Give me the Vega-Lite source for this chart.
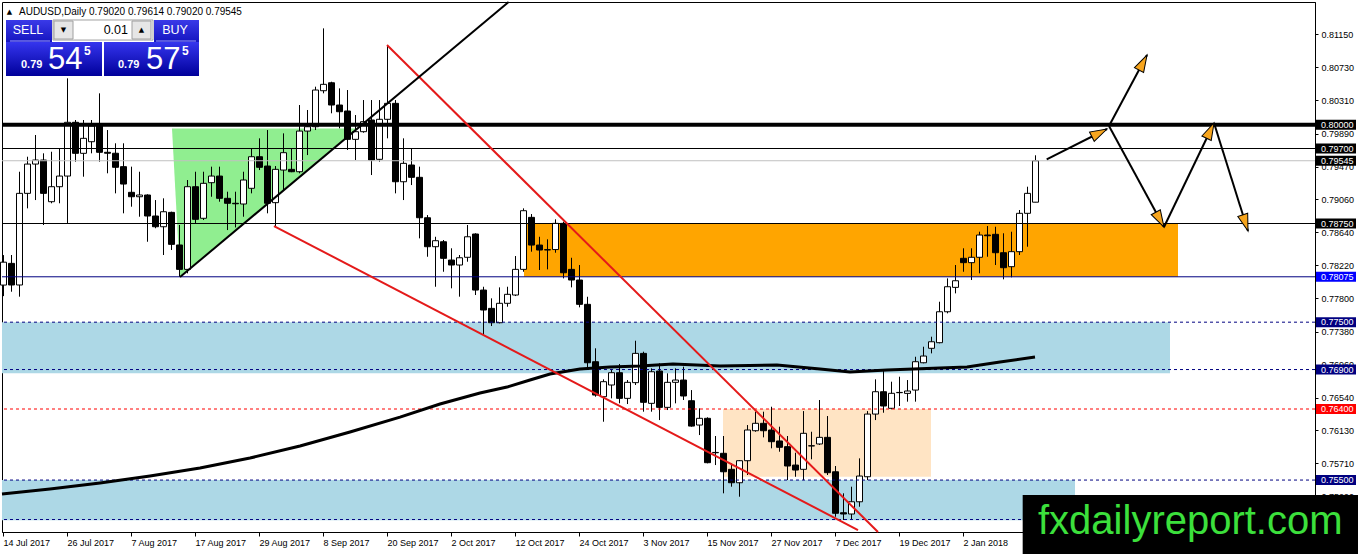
{
  "$schema": "https://vega.github.io/schema/vega-lite/v6.json",
  "width": 1313,
  "height": 530,
  "autosize": {"type": "none"},
  "padding": {"left": 2, "top": 2, "right": 43, "bottom": 22},
  "background": "white",
  "config": {
    "view": {"stroke": "black", "strokeWidth": 1},
    "font": "Liberation Sans",
    "axis": {"labelOverlap": false}
  },
  "resolve": {"scale": {"color": "independent", "fill": "independent", "angle": "independent"}},
  "datasets": {
    "zones": [
      {"a": -0.125, "b": 145.875, "lo": 0.76852, "hi": 0.775, "k": "blue"},
      {"a": -0.125, "b": 134, "lo": 0.7499, "hi": 0.755, "k": "blue"},
      {"a": 65.125, "b": 146.875, "lo": 0.78075, "hi": 0.7875, "k": "orange"},
      {"a": 90, "b": 116, "lo": 0.75542, "hi": 0.764, "k": "peach"}
    ],
    "tri": [
      {"t": 21.125, "top": 0.79955, "bot": 0.79955},
      {"t": 22.125, "top": 0.79955, "bot": 0.78072},
      {"t": 44.2, "top": 0.79955, "bot": 0.79955}
    ],
    "levels": [
      {"p": 0.8, "k": "thick"},
      {"p": 0.797, "k": "black"},
      {"p": 0.79545, "k": "gray"},
      {"p": 0.7875, "k": "black"},
      {"p": 0.78075, "k": "navy"},
      {"p": 0.775, "k": "dash"},
      {"p": 0.769, "k": "dash"},
      {"p": 0.764, "k": "red"},
      {"p": 0.755, "k": "dash"},
      {"p": 0.75, "k": "dash"}
    ],
    "tags": [
      {"p": 0.8, "k": "black"},
      {"p": 0.797, "k": "black"},
      {"p": 0.79545, "k": "black"},
      {"p": 0.7875, "k": "black"},
      {"p": 0.78075, "k": "blue"},
      {"p": 0.775, "k": "navy"},
      {"p": 0.769, "k": "navy"},
      {"p": 0.764, "k": "red"},
      {"p": 0.755, "k": "navy"}
    ],
    "ma": [
      {"t": -0.125, "p": 0.75323}, {"t": 5.875, "p": 0.75386}, {"t": 12.125, "p": 0.75462},
      {"t": 18.375, "p": 0.75551}, {"t": 24.625, "p": 0.75652}, {"t": 30.875, "p": 0.75779},
      {"t": 37.125, "p": 0.75931}, {"t": 43.375, "p": 0.76108}, {"t": 49.625, "p": 0.76298},
      {"t": 54.625, "p": 0.76463}, {"t": 59.625, "p": 0.76602}, {"t": 63, "p": 0.76678},
      {"t": 65.875, "p": 0.76767}, {"t": 68.375, "p": 0.76843}, {"t": 72.125, "p": 0.76907},
      {"t": 75.875, "p": 0.76932}, {"t": 79.625, "p": 0.76945}, {"t": 83.75, "p": 0.7697},
      {"t": 89.625, "p": 0.76945}, {"t": 96.75, "p": 0.76957}, {"t": 102.125, "p": 0.76907},
      {"t": 105.875, "p": 0.76869}, {"t": 110.5, "p": 0.76894}, {"t": 117.125, "p": 0.7692},
      {"t": 120.5, "p": 0.76932}, {"t": 124.625, "p": 0.76995}, {"t": 129, "p": 0.77058}
    ],
    "bars": [
      {"t": 0, "o": 0.7797, "h": 0.7835, "l": 0.7783, "c": 0.7826},
      {"t": 1, "o": 0.78245, "h": 0.78351, "l": 0.77886, "c": 0.77971},
      {"t": 2, "o": 0.77971, "h": 0.79406, "l": 0.77823, "c": 0.79132},
      {"t": 3, "o": 0.79132, "h": 0.79596, "l": 0.78942, "c": 0.79503},
      {"t": 4, "o": 0.79503, "h": 0.79871, "l": 0.79047, "c": 0.79554},
      {"t": 5, "o": 0.79554, "h": 0.79639, "l": 0.78731, "c": 0.79132},
      {"t": 6, "o": 0.79026, "h": 0.79659, "l": 0.79006, "c": 0.79216},
      {"t": 7, "o": 0.79216, "h": 0.79702, "l": 0.79006, "c": 0.79351},
      {"t": 8, "o": 0.79351, "h": 0.80589, "l": 0.78752, "c": 0.80032},
      {"t": 9, "o": 0.80032, "h": 0.80061, "l": 0.79533, "c": 0.79639},
      {"t": 10, "o": 0.79639, "h": 0.80061, "l": 0.79343, "c": 0.79829},
      {"t": 11, "o": 0.79786, "h": 0.80061, "l": 0.79639, "c": 0.79985},
      {"t": 12, "o": 0.79985, "h": 0.80399, "l": 0.79533, "c": 0.79652},
      {"t": 13, "o": 0.79652, "h": 0.79934, "l": 0.79386, "c": 0.7964},
      {"t": 14, "o": 0.7964, "h": 0.79766, "l": 0.79132, "c": 0.79462},
      {"t": 15, "o": 0.7947, "h": 0.79766, "l": 0.78879, "c": 0.7925},
      {"t": 16, "o": 0.79145, "h": 0.7947, "l": 0.78963, "c": 0.79089},
      {"t": 17, "o": 0.79089, "h": 0.79406, "l": 0.78836, "c": 0.79111},
      {"t": 18, "o": 0.79111, "h": 0.7912, "l": 0.78519, "c": 0.78845},
      {"t": 19, "o": 0.78845, "h": 0.79047, "l": 0.7869, "c": 0.78709},
      {"t": 20, "o": 0.78709, "h": 0.79069, "l": 0.78351, "c": 0.78899},
      {"t": 21, "o": 0.78891, "h": 0.789, "l": 0.78414, "c": 0.78486},
      {"t": 22, "o": 0.78478, "h": 0.78731, "l": 0.78076, "c": 0.78169},
      {"t": 23, "o": 0.78169, "h": 0.79301, "l": 0.78119, "c": 0.79216},
      {"t": 24, "o": 0.79216, "h": 0.79406, "l": 0.78752, "c": 0.78803},
      {"t": 25, "o": 0.78816, "h": 0.79406, "l": 0.78794, "c": 0.79259},
      {"t": 26, "o": 0.79267, "h": 0.7947, "l": 0.79089, "c": 0.79351},
      {"t": 27, "o": 0.79351, "h": 0.7947, "l": 0.79026, "c": 0.79069},
      {"t": 28, "o": 0.79069, "h": 0.79153, "l": 0.78667, "c": 0.79006},
      {"t": 29, "o": 0.79006, "h": 0.79153, "l": 0.787, "c": 0.79},
      {"t": 30, "o": 0.78997, "h": 0.79406, "l": 0.78836, "c": 0.79301},
      {"t": 31, "o": 0.79196, "h": 0.79702, "l": 0.79132, "c": 0.79596},
      {"t": 32, "o": 0.79596, "h": 0.79829, "l": 0.79427, "c": 0.79462},
      {"t": 33, "o": 0.79478, "h": 0.79934, "l": 0.78879, "c": 0.79006},
      {"t": 34, "o": 0.79014, "h": 0.79478, "l": 0.78709, "c": 0.79436},
      {"t": 35, "o": 0.79427, "h": 0.79892, "l": 0.79174, "c": 0.79647},
      {"t": 36, "o": 0.79436, "h": 0.79702, "l": 0.794, "c": 0.79406},
      {"t": 37, "o": 0.79406, "h": 0.80251, "l": 0.79386, "c": 0.79921},
      {"t": 38, "o": 0.79921, "h": 0.80188, "l": 0.79617, "c": 0.79976},
      {"t": 39, "o": 0.79976, "h": 0.80483, "l": 0.79934, "c": 0.80441},
      {"t": 40, "o": 0.80432, "h": 0.81222, "l": 0.80399, "c": 0.80513},
      {"t": 41, "o": 0.80533, "h": 0.80546, "l": 0.80146, "c": 0.80251},
      {"t": 42, "o": 0.80251, "h": 0.80462, "l": 0.79956, "c": 0.80166},
      {"t": 43, "o": 0.80175, "h": 0.80441, "l": 0.79681, "c": 0.79816},
      {"t": 44, "o": 0.79816, "h": 0.80124, "l": 0.79554, "c": 0.79913},
      {"t": 45, "o": 0.79913, "h": 0.80314, "l": 0.799, "c": 0.8004},
      {"t": 46, "o": 0.80061, "h": 0.80314, "l": 0.79364, "c": 0.79554},
      {"t": 47, "o": 0.79563, "h": 0.80314, "l": 0.79533, "c": 0.8007},
      {"t": 48, "o": 0.8007, "h": 0.81011, "l": 0.79829, "c": 0.80272},
      {"t": 49, "o": 0.80272, "h": 0.80314, "l": 0.79132, "c": 0.79279},
      {"t": 50, "o": 0.79279, "h": 0.79829, "l": 0.79047, "c": 0.79512},
      {"t": 51, "o": 0.79491, "h": 0.79702, "l": 0.79237, "c": 0.79335},
      {"t": 52, "o": 0.79335, "h": 0.7947, "l": 0.78562, "c": 0.78823},
      {"t": 53, "o": 0.78823, "h": 0.78857, "l": 0.78329, "c": 0.78456},
      {"t": 54, "o": 0.78456, "h": 0.78582, "l": 0.77949, "c": 0.78532},
      {"t": 55, "o": 0.78519, "h": 0.78541, "l": 0.78139, "c": 0.78309},
      {"t": 56, "o": 0.78287, "h": 0.78436, "l": 0.77929, "c": 0.78224},
      {"t": 57, "o": 0.78224, "h": 0.78351, "l": 0.77823, "c": 0.78316},
      {"t": 58, "o": 0.78322, "h": 0.78731, "l": 0.78266, "c": 0.78582},
      {"t": 59, "o": 0.78617, "h": 0.78626, "l": 0.77844, "c": 0.77907},
      {"t": 60, "o": 0.77907, "h": 0.77949, "l": 0.77337, "c": 0.77654},
      {"t": 61, "o": 0.77675, "h": 0.77802, "l": 0.77451, "c": 0.77493},
      {"t": 62, "o": 0.77493, "h": 0.77941, "l": 0.77485, "c": 0.77739},
      {"t": 63, "o": 0.77739, "h": 0.77949, "l": 0.77696, "c": 0.77853},
      {"t": 64, "o": 0.77844, "h": 0.78338, "l": 0.77831, "c": 0.78169},
      {"t": 65, "o": 0.78169, "h": 0.78942, "l": 0.78139, "c": 0.78912},
      {"t": 66, "o": 0.78828, "h": 0.7887, "l": 0.78393, "c": 0.78477},
      {"t": 67, "o": 0.78477, "h": 0.78582, "l": 0.78161, "c": 0.78414},
      {"t": 68, "o": 0.78414, "h": 0.7855, "l": 0.78169, "c": 0.7842},
      {"t": 69, "o": 0.7842, "h": 0.78803, "l": 0.7838, "c": 0.78752},
      {"t": 70, "o": 0.78752, "h": 0.78773, "l": 0.78055, "c": 0.78126},
      {"t": 71, "o": 0.78169, "h": 0.78316, "l": 0.77941, "c": 0.78034},
      {"t": 72, "o": 0.78034, "h": 0.78224, "l": 0.77688, "c": 0.77726},
      {"t": 73, "o": 0.77726, "h": 0.77822, "l": 0.76894, "c": 0.76986},
      {"t": 74, "o": 0.76999, "h": 0.77169, "l": 0.76556, "c": 0.76577},
      {"t": 75, "o": 0.76556, "h": 0.76776, "l": 0.76239, "c": 0.76746},
      {"t": 76, "o": 0.76704, "h": 0.76894, "l": 0.76535, "c": 0.7686},
      {"t": 77, "o": 0.7686, "h": 0.7697, "l": 0.76472, "c": 0.76535},
      {"t": 78, "o": 0.76535, "h": 0.76767, "l": 0.76463, "c": 0.76738},
      {"t": 79, "o": 0.76734, "h": 0.77265, "l": 0.76704, "c": 0.77105},
      {"t": 80, "o": 0.77105, "h": 0.77126, "l": 0.76366, "c": 0.76485},
      {"t": 81, "o": 0.76472, "h": 0.76915, "l": 0.76366, "c": 0.76872},
      {"t": 82, "o": 0.76881, "h": 0.76979, "l": 0.7626, "c": 0.76421},
      {"t": 83, "o": 0.76421, "h": 0.76852, "l": 0.76387, "c": 0.76738},
      {"t": 84, "o": 0.76738, "h": 0.76915, "l": 0.76472, "c": 0.76767},
      {"t": 85, "o": 0.76767, "h": 0.76936, "l": 0.76514, "c": 0.76565},
      {"t": 86, "o": 0.76505, "h": 0.7664, "l": 0.76176, "c": 0.76184},
      {"t": 87, "o": 0.76197, "h": 0.76409, "l": 0.7607, "c": 0.76282},
      {"t": 88, "o": 0.76282, "h": 0.76295, "l": 0.75712, "c": 0.7572},
      {"t": 89, "o": 0.75846, "h": 0.76058, "l": 0.7569, "c": 0.7585},
      {"t": 90, "o": 0.75839, "h": 0.76058, "l": 0.75332, "c": 0.75605},
      {"t": 91, "o": 0.75636, "h": 0.75712, "l": 0.75416, "c": 0.75466},
      {"t": 92, "o": 0.75466, "h": 0.75754, "l": 0.75289, "c": 0.75745},
      {"t": 93, "o": 0.75745, "h": 0.76197, "l": 0.75564, "c": 0.76134},
      {"t": 94, "o": 0.76125, "h": 0.76366, "l": 0.76112, "c": 0.76219},
      {"t": 95, "o": 0.76219, "h": 0.76366, "l": 0.76041, "c": 0.76125},
      {"t": 96, "o": 0.76134, "h": 0.76429, "l": 0.75902, "c": 0.75986},
      {"t": 97, "o": 0.75995, "h": 0.76176, "l": 0.75859, "c": 0.75915},
      {"t": 98, "o": 0.75923, "h": 0.76058, "l": 0.755, "c": 0.75678},
      {"t": 99, "o": 0.7569, "h": 0.75846, "l": 0.75542, "c": 0.75627},
      {"t": 100, "o": 0.75636, "h": 0.76374, "l": 0.755, "c": 0.76092},
      {"t": 101, "o": 0.75932, "h": 0.76112, "l": 0.75763, "c": 0.75935},
      {"t": 102, "o": 0.75957, "h": 0.76514, "l": 0.75944, "c": 0.76041},
      {"t": 103, "o": 0.76041, "h": 0.76311, "l": 0.75564, "c": 0.75593},
      {"t": 104, "o": 0.75605, "h": 0.75678, "l": 0.75035, "c": 0.75079},
      {"t": 105, "o": 0.75086, "h": 0.75332, "l": 0.74994, "c": 0.7507},
      {"t": 106, "o": 0.7507, "h": 0.75416, "l": 0.74994, "c": 0.75225},
      {"t": 107, "o": 0.75225, "h": 0.75775, "l": 0.75162, "c": 0.75551},
      {"t": 108, "o": 0.75542, "h": 0.76374, "l": 0.755, "c": 0.76336},
      {"t": 109, "o": 0.76336, "h": 0.76776, "l": 0.7626, "c": 0.76619},
      {"t": 110, "o": 0.76619, "h": 0.76885, "l": 0.76353, "c": 0.76438},
      {"t": 111, "o": 0.76409, "h": 0.76746, "l": 0.76396, "c": 0.76599},
      {"t": 112, "o": 0.76607, "h": 0.76809, "l": 0.76438, "c": 0.7661},
      {"t": 113, "o": 0.76598, "h": 0.76767, "l": 0.76493, "c": 0.76628},
      {"t": 114, "o": 0.7664, "h": 0.77062, "l": 0.76493, "c": 0.76999},
      {"t": 115, "o": 0.76986, "h": 0.77189, "l": 0.76979, "c": 0.77071},
      {"t": 116, "o": 0.77169, "h": 0.77316, "l": 0.77105, "c": 0.77252},
      {"t": 117, "o": 0.7724, "h": 0.77759, "l": 0.77232, "c": 0.77632},
      {"t": 118, "o": 0.77632, "h": 0.78055, "l": 0.77612, "c": 0.77949},
      {"t": 119, "o": 0.77941, "h": 0.78224, "l": 0.77865, "c": 0.78025},
      {"t": 120, "o": 0.78309, "h": 0.78436, "l": 0.78139, "c": 0.78254},
      {"t": 121, "o": 0.78254, "h": 0.78436, "l": 0.78034, "c": 0.78322},
      {"t": 122, "o": 0.78322, "h": 0.78646, "l": 0.78119, "c": 0.78604},
      {"t": 123, "o": 0.78604, "h": 0.78718, "l": 0.78329, "c": 0.78595},
      {"t": 124, "o": 0.78613, "h": 0.78709, "l": 0.78224, "c": 0.7838},
      {"t": 125, "o": 0.7838, "h": 0.78626, "l": 0.78043, "c": 0.7819},
      {"t": 126, "o": 0.78203, "h": 0.78646, "l": 0.78068, "c": 0.78393},
      {"t": 127, "o": 0.78393, "h": 0.78921, "l": 0.78351, "c": 0.78879},
      {"t": 128, "o": 0.78879, "h": 0.79216, "l": 0.78456, "c": 0.79132},
      {"t": 129, "o": 0.7902, "h": 0.79614, "l": 0.7902, "c": 0.79545}
    ],
    "segs": [
      {"k": "red", "x1": 48, "y1": 0.81011, "x2": 109.375, "y2": 0.74842},
      {"k": "red", "x1": 33.875, "y1": 0.78718, "x2": 106.875, "y2": 0.74867},
      {"k": "black", "x1": 22.125, "y1": 0.78072, "x2": 63.2, "y2": 0.81556},
      {"k": "black", "x1": 130.46, "y1": 0.79563, "x2": 138, "y2": 0.79947},
      {"k": "black", "x1": 138.25, "y1": 0.79985, "x2": 143, "y2": 0.80884},
      {"k": "black", "x1": 138.25, "y1": 0.79985, "x2": 145.125, "y2": 0.78705},
      {"k": "black", "x1": 145.125, "y1": 0.78705, "x2": 151.375, "y2": 0.80023},
      {"k": "black", "x1": 151.375, "y1": 0.80023, "x2": 155.625, "y2": 0.78655}
    ],
    "heads": [
      {"id": 1, "t": 138, "p": 0.79947},
      {"id": 2, "t": 143, "p": 0.80884},
      {"id": 3, "t": 145.125, "p": 0.78705},
      {"id": 4, "t": 151.375, "p": 0.80023},
      {"id": 5, "t": 155.625, "p": 0.78655}
    ],
    "uirect": [
      {"k": "btn", "x1": 0.375, "x2": 6.125, "y1": 0.81328, "y2": 0.81049},
      {"k": "btn", "x1": 18.875, "x2": 24.5, "y1": 0.81328, "y2": 0.81049},
      {"k": "white", "x1": 6.25, "x2": 18.75, "y1": 0.81328, "y2": 0.81074},
      {"k": "gray", "x1": 6.375, "x2": 8.75, "y1": 0.81315, "y2": 0.81087},
      {"k": "gray", "x1": 16.125, "x2": 18.5, "y1": 0.81315, "y2": 0.81087},
      {"k": "panel", "x1": 0.375, "x2": 12.375, "y1": 0.81049, "y2": 0.80618},
      {"k": "panel", "x1": 12.625, "x2": 24.5, "y1": 0.81049, "y2": 0.80618}
    ],
    "uisep": [
      {"x1": 0.875, "x2": 5.875, "p": 0.81062},
      {"x1": 19.125, "x2": 24.125, "p": 0.81062}
    ],
    "uitext": [
      {"k": "hdrtri", "t": 0.8125, "p": 0.81429, "s": "▲"},
      {"k": "hdr", "t": 2.0, "p": 0.81429, "s": "AUDUSD,Daily   0.79020 0.79614 0.79020 0.79545"},
      {"k": "btn", "t": 3.125, "p": 0.81201, "s": "SELL"},
      {"k": "btn", "t": 21.5, "p": 0.81201, "s": "BUY"},
      {"k": "lot", "t": 15.625, "p": 0.81201, "s": "0.01"},
      {"k": "arrow", "t": 7.5625, "p": 0.81201, "s": "▼"},
      {"k": "arrow", "t": 17.3125, "p": 0.81201, "s": "▲"},
      {"k": "small", "t": 2.25, "p": 0.8072, "s": "0.79"},
      {"k": "small", "t": 14.375, "p": 0.8072, "s": "0.79"},
      {"k": "big", "t": 5.625, "p": 0.80707, "s": "54"},
      {"k": "big", "t": 17.875, "p": 0.80707, "s": "57"},
      {"k": "sup", "t": 10.125, "p": 0.80884, "s": "5"},
      {"k": "sup", "t": 22.375, "p": 0.80884, "s": "5"}
    ],
    "mark": [
      {"x1": 127.46, "x2": 169.375, "y1": 0.7531, "y2": 0.74563, "t": 129.375, "p": 0.74816, "s": "fxdailyreport.com"}
    ]
  },
  "layer": [
    {
      "data": {"name": "zones"},
      "mark": {"type": "rect"},
      "encoding": {
        "x": {
          "field": "a", "type": "quantitative", "title": null,
          "scale": {"domain": [-0.125, 164], "nice": false, "zero": false, "padding": 0},
          "axis": {
            "values": [0, 8, 16, 24, 32, 40, 48, 56, 64, 72, 80, 88, 96, 104, 112, 120],
            "tickCount": 40,
            "labelExpr": "['14 Jul 2017','26 Jul 2017','7 Aug 2017','17 Aug 2017','29 Aug 2017','8 Sep 2017','20 Sep 2017','2 Oct 2017','12 Oct 2017','24 Oct 2017','3 Nov 2017','15 Nov 2017','27 Nov 2017','7 Dec 2017','19 Dec 2017','2 Jan 2018'][round(datum.value/8)]",
            "labelAlign": "left", "labelFont": "Liberation Sans", "labelFontSize": 9,
            "labelColor": "black", "tickColor": "black", "tickSize": 4, "domainColor": "black",
            "grid": false, "labelPadding": 2, "labelFlush": false, "labelOverlap": false, "labelBound": false
          }
        },
        "x2": {"field": "b"},
        "y": {
          "field": "lo", "type": "quantitative", "title": null,
          "scale": {"domain": [0.74842, 0.81556], "nice": false, "zero": false, "padding": 0},
          "axis": {
            "orient": "right",
            "values": [0.8115, 0.8073, 0.8031, 0.7989, 0.7947, 0.7906, 0.7864, 0.7822, 0.778, 0.7738, 0.7696, 0.7654, 0.7613, 0.7571, 0.7529],
            "tickCount": 40,
            "format": ".5f", "labelFont": "Liberation Sans", "labelFontSize": 9, "labelColor": "black",
            "tickColor": "black", "tickSize": 3, "domainColor": "black", "grid": false,
            "labelPadding": 3, "labelOverlap": false, "labelBound": false
          }
        },
        "y2": {"field": "hi"},
        "color": {
          "field": "k", "type": "nominal", "legend": null,
          "scale": {"domain": ["blue", "orange", "peach"], "range": ["#add8e6", "#ffa500", "#ffe4c4"]}
        }
      }
    },
    {
      "data": {"name": "tri"},
      "mark": {"type": "area", "color": "#90ee90"},
      "encoding": {
        "x": {"field": "t", "type": "quantitative", "title": null},
        "y": {"field": "top", "type": "quantitative", "title": null},
        "y2": {"field": "bot"}
      }
    },
    {
      "data": {"name": "bars"},
      "mark": {"type": "rule", "color": "black", "strokeWidth": 1, "xOffset": 0.5},
      "encoding": {
        "x": {"field": "t", "type": "quantitative", "title": null},
        "y": {"field": "l", "type": "quantitative", "title": null},
        "y2": {"field": "h"}
      }
    },
    {
      "data": {"name": "bars"},
      "mark": {"type": "bar", "width": 6, "stroke": "black", "strokeWidth": 1, "xOffset": 0.5},
      "encoding": {
        "x": {"field": "t", "type": "quantitative", "title": null},
        "y": {"field": "o", "type": "quantitative", "title": null},
        "y2": {"field": "c"},
        "fill": {"condition": {"test": "datum.c >= datum.o", "value": "white"}, "value": "black"}
      }
    },
    {
      "data": {"name": "levels"},
      "transform": [{"filter": "datum.k !== 'thick' && datum.k !== 'dash' && datum.k !== 'red'"}],
      "mark": {"type": "rule", "strokeWidth": 1},
      "encoding": {
        "y": {"field": "p", "type": "quantitative", "title": null},
        "color": {
          "field": "k", "type": "nominal", "legend": null,
          "scale": {"domain": ["black", "gray", "navy"], "range": ["#000000", "#c0c0c0", "#000080"]}
        }
      }
    },
    {
      "data": {"name": "levels"},
      "transform": [{"filter": "datum.k === 'dash' || datum.k === 'red'"}],
      "mark": {"type": "rule", "strokeWidth": 1, "strokeDash": [3, 3]},
      "encoding": {
        "y": {"field": "p", "type": "quantitative", "title": null},
        "color": {
          "field": "k", "type": "nominal", "legend": null,
          "scale": {"domain": ["dash", "red"], "range": ["#000080", "#ff0000"]}
        }
      }
    },
    {
      "data": {"name": "levels"},
      "transform": [{"filter": "datum.k === 'thick'"}],
      "mark": {"type": "rule", "strokeWidth": 4, "color": "black"},
      "encoding": {
        "y": {"field": "p", "type": "quantitative", "title": null}
      }
    },
    {
      "data": {"name": "ma"},
      "mark": {"type": "line", "color": "black", "strokeWidth": 3},
      "encoding": {
        "x": {"field": "t", "type": "quantitative", "title": null},
        "y": {"field": "p", "type": "quantitative", "title": null}
      }
    },
    {
      "data": {"name": "segs"},
      "mark": {"type": "rule", "strokeWidth": 2},
      "encoding": {
        "x": {"field": "x1", "type": "quantitative", "title": null},
        "x2": {"field": "x2"},
        "y": {"field": "y1", "type": "quantitative", "title": null},
        "y2": {"field": "y2"},
        "color": {
          "field": "k", "type": "nominal", "legend": null,
          "scale": {"domain": ["red", "black"], "range": ["#e41a1a", "#000000"]}
        }
      }
    },
    {
      "data": {"name": "heads"},
      "mark": {"type": "point", "shape": "M0,0L0.55,1.8L-0.55,1.8Z", "size": 356, "filled": true, "fill": "#f7a51d", "stroke": "black", "strokeWidth": 1, "opacity": 1},
      "encoding": {
        "x": {"field": "t", "type": "quantitative", "title": null},
        "y": {"field": "p", "type": "quantitative", "title": null},
        "angle": {
          "field": "id", "type": "quantitative", "legend": null,
          "scale": {"domain": [1, 2, 3, 4, 5], "range": [63, 28, 151, 26, 162]}
        }
      }
    },
    {
      "data": {"name": "uirect"},
      "transform": [{"filter": "datum.k === 'btn'"}],
      "mark": {"type": "rect", "fill": {"gradient": "linear", "x1": 0, "y1": 0, "x2": 0, "y2": 1, "stops": [{"offset": 0, "color": "#3a3ae8"}, {"offset": 1, "color": "#1515c0"}]}},
      "encoding": {
        "x": {"field": "x1", "type": "quantitative", "title": null},
        "x2": {"field": "x2"},
        "y": {"field": "y1", "type": "quantitative", "title": null},
        "y2": {"field": "y2"}
      }
    },
    {
      "data": {"name": "uirect"},
      "transform": [{"filter": "datum.k === 'panel'"}],
      "mark": {"type": "rect", "fill": {"gradient": "linear", "x1": 0, "y1": 0, "x2": 0, "y2": 1, "stops": [{"offset": 0, "color": "#3535ee"}, {"offset": 1, "color": "#00009a"}]}},
      "encoding": {
        "x": {"field": "x1", "type": "quantitative", "title": null},
        "x2": {"field": "x2"},
        "y": {"field": "y1", "type": "quantitative", "title": null},
        "y2": {"field": "y2"}
      }
    },
    {
      "data": {"name": "uisep"},
      "mark": {"type": "rule", "color": "#9a9aff", "strokeWidth": 1},
      "encoding": {
        "x": {"field": "x1", "type": "quantitative", "title": null},
        "x2": {"field": "x2"},
        "y": {"field": "p", "type": "quantitative", "title": null}
      }
    },
    {
      "data": {"name": "uirect"},
      "transform": [{"filter": "datum.k === 'white' || datum.k === 'gray'"}],
      "mark": {"type": "rect", "stroke": "#a0a0a0", "strokeWidth": 1},
      "encoding": {
        "x": {"field": "x1", "type": "quantitative", "title": null},
        "x2": {"field": "x2"},
        "y": {"field": "y1", "type": "quantitative", "title": null},
        "y2": {"field": "y2"},
        "fill": {
          "field": "k", "type": "nominal", "legend": null,
          "scale": {"domain": ["white", "gray"], "range": ["#ffffff", "#e6e6e6"]}
        }
      }
    },
    {
      "data": {"name": "uitext"},
      "transform": [{"filter": "datum.k === 'hdr'"}],
      "mark": {"type": "text", "align": "left", "baseline": "middle", "font": "Liberation Sans", "fontSize": 10, "color": "black"},
      "encoding": {
        "x": {"field": "t", "type": "quantitative", "title": null},
        "y": {"field": "p", "type": "quantitative", "title": null},
        "text": {"field": "s"}
      }
    },
    {
      "data": {"name": "uitext"},
      "transform": [{"filter": "datum.k === 'hdrtri' || datum.k === 'arrow'"}],
      "mark": {"type": "text", "align": "center", "baseline": "middle", "font": "DejaVu Sans", "fontSize": 7, "color": "black"},
      "encoding": {
        "x": {"field": "t", "type": "quantitative", "title": null},
        "y": {"field": "p", "type": "quantitative", "title": null},
        "text": {"field": "s"}
      }
    },
    {
      "data": {"name": "uitext"},
      "transform": [{"filter": "datum.k === 'btn'"}],
      "mark": {"type": "text", "align": "center", "baseline": "middle", "font": "Liberation Sans", "fontSize": 12.5, "color": "white"},
      "encoding": {
        "x": {"field": "t", "type": "quantitative", "title": null},
        "y": {"field": "p", "type": "quantitative", "title": null},
        "text": {"field": "s"}
      }
    },
    {
      "data": {"name": "uitext"},
      "transform": [{"filter": "datum.k === 'lot'"}],
      "mark": {"type": "text", "align": "right", "baseline": "middle", "font": "Liberation Sans", "fontSize": 12.5, "color": "black"},
      "encoding": {
        "x": {"field": "t", "type": "quantitative", "title": null},
        "y": {"field": "p", "type": "quantitative", "title": null},
        "text": {"field": "s"}
      }
    },
    {
      "data": {"name": "uitext"},
      "transform": [{"filter": "datum.k === 'small'"}],
      "mark": {"type": "text", "align": "left", "baseline": "alphabetic", "font": "Liberation Sans", "fontSize": 11, "fontWeight": "bold", "color": "white"},
      "encoding": {
        "x": {"field": "t", "type": "quantitative", "title": null},
        "y": {"field": "p", "type": "quantitative", "title": null},
        "text": {"field": "s"}
      }
    },
    {
      "data": {"name": "uitext"},
      "transform": [{"filter": "datum.k === 'big'"}],
      "mark": {"type": "text", "align": "left", "baseline": "alphabetic", "font": "Liberation Sans", "fontSize": 31, "color": "white"},
      "encoding": {
        "x": {"field": "t", "type": "quantitative", "title": null},
        "y": {"field": "p", "type": "quantitative", "title": null},
        "text": {"field": "s"}
      }
    },
    {
      "data": {"name": "uitext"},
      "transform": [{"filter": "datum.k === 'sup'"}],
      "mark": {"type": "text", "align": "left", "baseline": "alphabetic", "font": "Liberation Sans", "fontSize": 12, "fontWeight": "bold", "color": "white"},
      "encoding": {
        "x": {"field": "t", "type": "quantitative", "title": null},
        "y": {"field": "p", "type": "quantitative", "title": null},
        "text": {"field": "s"}
      }
    },
    {
      "data": {"name": "tags"},
      "mark": {"type": "tick", "orient": "horizontal", "size": 40, "thickness": 10, "opacity": 1},
      "encoding": {
        "x": {"datum": 166.625, "type": "quantitative", "title": null},
        "y": {"field": "p", "type": "quantitative", "title": null},
        "color": {
          "field": "k", "type": "nominal", "legend": null,
          "scale": {"domain": ["black", "blue", "navy", "red"], "range": ["#000000", "#0000ff", "#000080", "#ff0000"]}
        }
      }
    },
    {
      "data": {"name": "tags"},
      "mark": {"type": "text", "align": "left", "baseline": "middle", "font": "Liberation Sans", "fontSize": 9, "color": "white"},
      "encoding": {
        "x": {"datum": 164.75, "type": "quantitative", "title": null},
        "y": {"field": "p", "type": "quantitative", "title": null},
        "text": {"field": "p", "type": "quantitative", "format": ".5f"}
      }
    },
    {
      "data": {"name": "mark"},
      "mark": {"type": "rect", "color": "black"},
      "encoding": {
        "x": {"field": "x1", "type": "quantitative", "title": null},
        "x2": {"field": "x2"},
        "y": {"field": "y1", "type": "quantitative", "title": null},
        "y2": {"field": "y2"}
      }
    },
    {
      "data": {"name": "mark"},
      "mark": {"type": "text", "align": "left", "baseline": "alphabetic", "font": "Liberation Sans", "fontSize": 40, "color": "#3ce03c"},
      "encoding": {
        "x": {"field": "t", "type": "quantitative", "title": null},
        "y": {"field": "p", "type": "quantitative", "title": null},
        "text": {"field": "s"}
      }
    }
  ]
}
